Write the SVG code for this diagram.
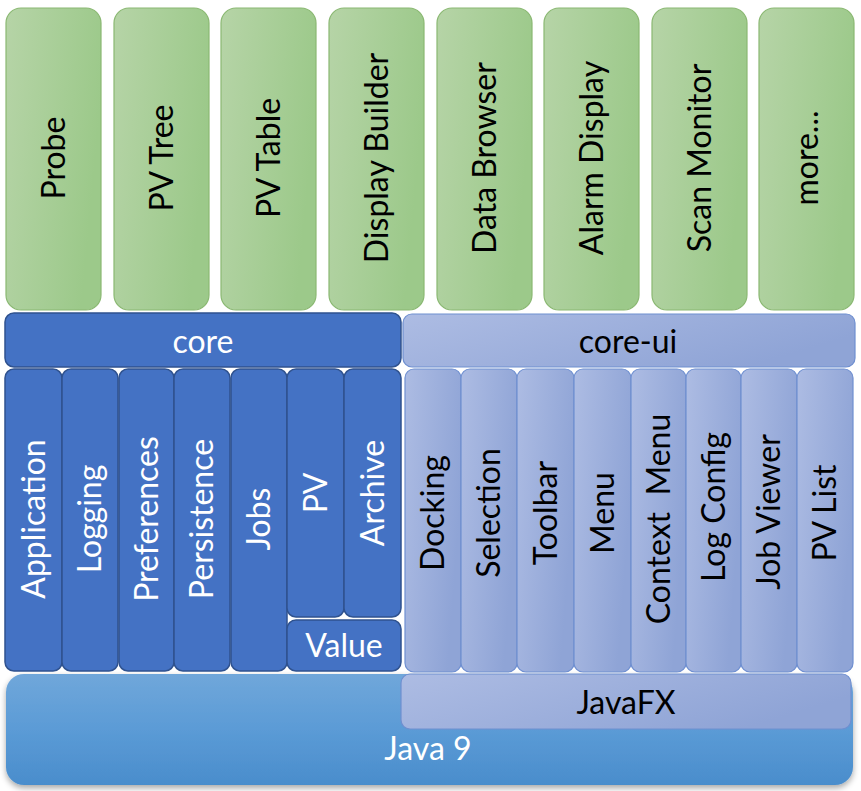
<svg xmlns="http://www.w3.org/2000/svg" width="861" height="791" viewBox="0 0 861 791">
<defs>
<linearGradient id="gGreen" x1="0" y1="0" x2="1" y2="0.3">
<stop offset="0" stop-color="#b6d4a7"/><stop offset="1" stop-color="#9cc98a"/>
</linearGradient>
<linearGradient id="gLight" x1="0" y1="0" x2="1" y2="0.4">
<stop offset="0" stop-color="#adbce3"/><stop offset="1" stop-color="#8fa4d6"/>
</linearGradient>
<linearGradient id="gJava" x1="0" y1="0" x2="0" y2="1">
<stop offset="0" stop-color="#70a7da"/><stop offset="0.5" stop-color="#5b9bd6"/><stop offset="1" stop-color="#4a8dcc"/>
</linearGradient>
<filter id="shadow" x="-5%" y="-5%" width="110%" height="120%">
<feGaussianBlur in="SourceAlpha" stdDeviation="3"/>
<feOffset dx="0" dy="3" result="b"/>
<feComponentTransfer><feFuncA type="linear" slope="0.35"/></feComponentTransfer>
<feMerge><feMergeNode/><feMergeNode in="SourceGraphic"/></feMerge>
</filter>
</defs>
<style>
text{font-family:Lato,"Open Sans","Liberation Sans",sans-serif;font-size:32px;text-anchor:middle}
.green{fill:url(#gGreen);stroke:#8ab872;stroke-width:1.2}
.dark{fill:#4472c4;stroke:#2f528f;stroke-width:1.5}
.light{fill:url(#gLight);stroke:#6f8fd0;stroke-width:1.2}
.bt{fill:#000}
.wt{fill:#fff}
</style>

<g id="java9">
<rect x="6" y="674" width="847" height="111" rx="18" fill="url(#gJava)" filter="url(#shadow)"/>
<text class="wt" x="428" y="760">Java 9</text>
</g>

<g id="apps">
<g id="probe"><rect class="green" x="6" y="8" width="95" height="302" rx="15"/><text class="bt" transform="translate(53.5,158) rotate(-90)" dy="0.35em">Probe</text></g>
<g id="pvtree"><rect class="green" x="114" y="8" width="95" height="302" rx="15"/><text class="bt" transform="translate(161.5,158) rotate(-90)" dy="0.35em">PV Tree</text></g>
<g id="pvtable"><rect class="green" x="221" y="8" width="95" height="302" rx="15"/><text class="bt" transform="translate(268.5,158) rotate(-90)" dy="0.35em">PV Table</text></g>
<g id="displaybuilder"><rect class="green" x="329" y="8" width="95" height="302" rx="15"/><text class="bt" transform="translate(376.5,158) rotate(-90)" dy="0.35em">Display Builder</text></g>
<g id="databrowser"><rect class="green" x="437" y="8" width="95" height="302" rx="15"/><text class="bt" transform="translate(484.5,158) rotate(-90)" dy="0.35em">Data Browser</text></g>
<g id="alarmdisplay"><rect class="green" x="544" y="8" width="95" height="302" rx="15"/><text class="bt" transform="translate(591.5,158) rotate(-90)" dy="0.35em">Alarm Display</text></g>
<g id="scanmonitor"><rect class="green" x="652" y="8" width="95" height="302" rx="15"/><text class="bt" transform="translate(699.5,158) rotate(-90)" dy="0.35em">Scan Monitor</text></g>
<g id="more"><rect class="green" x="759" y="8" width="95" height="302" rx="15"/><text class="bt" transform="translate(806.5,158) rotate(-90)" dy="0.35em">more...</text></g>
</g>

<g id="core"><rect class="dark" x="5" y="313" width="396" height="54" rx="9"/><text class="wt" x="203" y="353">core</text></g>
<g id="coreui"><rect class="light" x="403" y="314" width="452" height="53" rx="9"/><text class="bt" x="628" y="353">core-ui</text></g>

<g id="core-modules">
<g id="application"><rect class="dark" x="5" y="369" width="57" height="302" rx="9"/><text class="wt" transform="translate(33.5,519) rotate(-90)" dy="0.35em">Application</text></g>
<g id="logging"><rect class="dark" x="62" y="369" width="56" height="302" rx="9"/><text class="wt" transform="translate(90,519) rotate(-90)" dy="0.35em">Logging</text></g>
<g id="preferences"><rect class="dark" x="119" y="369" width="55" height="302" rx="9"/><text class="wt" transform="translate(146.5,519) rotate(-90)" dy="0.35em">Preferences</text></g>
<g id="persistence"><rect class="dark" x="174" y="369" width="56" height="302" rx="9"/><text class="wt" transform="translate(202,519) rotate(-90)" dy="0.35em">Persistence</text></g>
<g id="jobs"><rect class="dark" x="231" y="369" width="56" height="302" rx="9"/><text class="wt" transform="translate(259,519) rotate(-90)" dy="0.35em">Jobs</text></g>
<g id="pv"><rect class="dark" x="287" y="369" width="57" height="248" rx="9"/><text class="wt" transform="translate(315.5,493) rotate(-90)" dy="0.35em">PV</text></g>
<g id="archive"><rect class="dark" x="344" y="369" width="57" height="248" rx="9"/><text class="wt" transform="translate(372.5,493) rotate(-90)" dy="0.35em">Archive</text></g>
<g id="value"><rect class="dark" x="287" y="620" width="114" height="51" rx="9"/><text class="wt" x="344" y="657">Value</text></g>
</g>

<g id="coreui-modules">
<g id="docking"><rect class="light" x="405" y="369" width="56" height="303" rx="9"/><text class="bt" transform="translate(433,513) rotate(-90)" dy="0.35em">Docking</text></g>
<g id="selection"><rect class="light" x="461" y="369" width="56" height="303" rx="9"/><text class="bt" transform="translate(489,513) rotate(-90)" dy="0.35em">Selection</text></g>
<g id="toolbar"><rect class="light" x="517" y="369" width="57" height="303" rx="9"/><text class="bt" transform="translate(545.5,513) rotate(-90)" dy="0.35em">Toolbar</text></g>
<g id="menu"><rect class="light" x="574" y="369" width="57" height="303" rx="9"/><text class="bt" transform="translate(602.5,513) rotate(-90)" dy="0.35em">Menu</text></g>
<g id="contextmenu"><rect class="light" x="631" y="369" width="55" height="303" rx="9"/><text class="bt" transform="translate(658.5,519) rotate(-90)" dy="0.35em" xml:space="preserve">Context  Menu</text></g>
<g id="logconfig"><rect class="light" x="686" y="369" width="55" height="303" rx="9"/><text class="bt" transform="translate(713.5,507) rotate(-90)" dy="0.35em">Log Config</text></g>
<g id="jobviewer"><rect class="light" x="741" y="369" width="56" height="303" rx="9"/><text class="bt" transform="translate(769,512) rotate(-90)" dy="0.35em">Job Viewer</text></g>
<g id="pvlist"><rect class="light" x="797" y="369" width="56" height="303" rx="9"/><text class="bt" transform="translate(825,513) rotate(-90)" dy="0.35em">PV List</text></g>
</g>

<g id="javafx"><rect class="light" x="401" y="674" width="450" height="55" rx="9"/><text class="bt" x="626" y="714">JavaFX</text></g>

<g id="connectors"></g>
</svg>
